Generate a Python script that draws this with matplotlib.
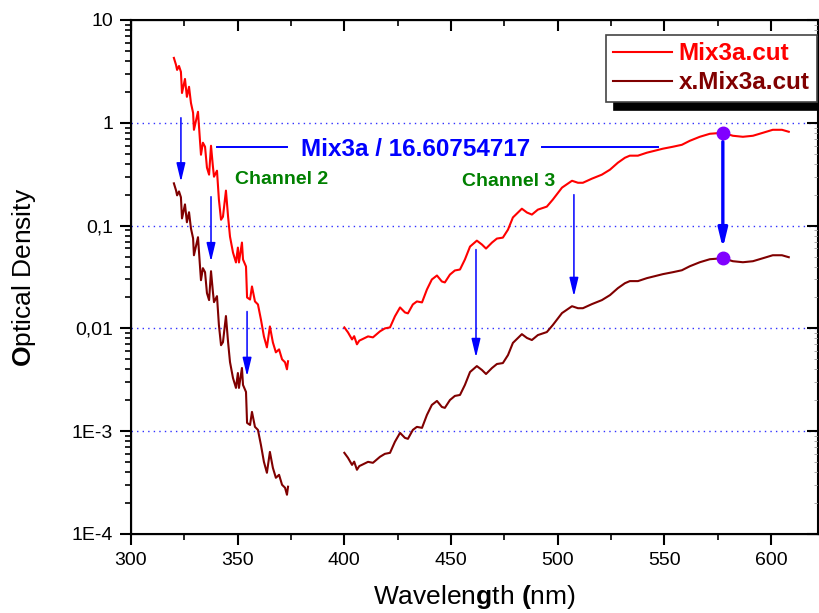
import numpy as np
import matplotlib.pyplot as plt
from matplotlib.ticker import FixedLocator, MultipleLocator, NullFormatter, LogLocator

plt.rcParams['font.family'] = ['Liberation Sans', 'DejaVu Sans']
plt.rcParams['mathtext.fontset'] = 'custom'
plt.rcParams['mathtext.rm'] = 'Liberation Sans'
plt.rcParams['mathtext.bf'] = 'Liberation Sans:bold'

# Mix3a.cut, UV part (channel 2)
wl_uv = [320.1, 321.1, 321.6, 322.5, 323.4, 323.9, 325.3, 326.2, 327.2, 328.1,
         329.1, 329.5, 331.4, 332.3, 332.8, 333.7, 334.7, 335.6, 336.6, 337.5,
         338.4, 338.9, 340.3, 341.2, 342.2, 343.1, 344.5, 345.5, 346.4, 347.8,
         349.2, 350.1, 350.6, 352.0, 352.5, 353.9, 354.4, 355.8, 356.7, 358.1,
         359.5, 360.9, 362.3, 363.7, 365.1, 366.5, 367.9, 369.4, 370.8, 372.2,
         373.1, 373.6]
od_uv = [4.28, 3.66, 3.27, 3.57, 3.13, 1.95, 2.67, 1.79, 2.24, 1.56,
         1.25, 0.855, 1.28, 0.684, 0.489, 0.640, 0.585, 0.366, 0.313, 0.598,
         0.374, 0.299, 0.342, 0.179, 0.114, 0.122, 0.219, 0.122, 0.0782, 0.0547,
         0.0438, 0.0611, 0.0438, 0.0684, 0.0468, 0.0400, 0.0200, 0.0191, 0.0256, 0.0183,
         0.0171, 0.0122, 0.00836, 0.00654, 0.01044, 0.00731, 0.00585, 0.00625, 0.00500, 0.00468,
         0.00400, 0.00479]

# Mix3a.cut, visible part (channel 3)
wl_vis = [400.0, 401.7, 403.6, 404.6, 405.9, 407.0, 408.2, 411.1, 413.4, 416.7,
          419.0, 421.4, 423.7, 426.1, 428.4, 429.8, 432.1, 434.0, 436.4, 438.7,
          441.0, 443.4, 445.7, 447.1, 449.5, 451.8, 454.2, 456.5, 458.9, 462.1,
          464.5, 466.4, 469.2, 471.5, 474.3, 476.7, 479.0, 483.2, 485.6, 487.9,
          490.7, 494.9, 497.7, 502.0, 506.7, 509.5, 511.8, 516.0, 520.7, 524.5,
          528.2, 531.5, 533.8, 537.6, 541.8, 545.5, 549.3, 554.0, 558.2, 561.9,
          566.6, 571.3, 577.4, 582.1, 586.8, 591.5, 596.2, 600.8, 605.1, 608.3]
od_vis = [0.01023, 0.00915, 0.00781, 0.00840, 0.00700, 0.00760, 0.00781, 0.00836, 0.00818, 0.00936,
          0.0100, 0.01023, 0.0131, 0.0160, 0.0143, 0.0140, 0.0171, 0.0183, 0.0179, 0.0239,
          0.0299, 0.0327, 0.0286, 0.0280, 0.0334, 0.0366, 0.0374, 0.0468, 0.0625, 0.0714,
          0.0654, 0.0598, 0.0684, 0.0748, 0.0764, 0.0914, 0.120, 0.146, 0.134, 0.128,
          0.143, 0.153, 0.179, 0.234, 0.273, 0.261, 0.261, 0.286, 0.313, 0.350,
          0.409, 0.457, 0.479, 0.479, 0.512, 0.535, 0.560, 0.585, 0.611, 0.668,
          0.731, 0.782, 0.800, 0.748, 0.731, 0.748, 0.800, 0.855, 0.855, 0.818]

factor = 16.60754717   # x.Mix3a = Mix3a / factor

y_ticks = [1e-4, 1e-3, 1e-2, 1e-1, 1, 10]
y_ticklabels = ['1E-4', '1E-3', '0,01', '0,1', '1', '10']
grid_levels = [1e-3, 1e-2, 1e-1, 1]

# arrows channel 2 / channel 3 (x, from, to)
arrow_x = [323.4, 337.5, 354.4, 461.7, 507.6]
arrow_from = [1.12, 0.191, 0.0146, 0.0585, 0.200]
arrow_to = [0.267, 0.0447, 0.00342, 0.00522, 0.0205]
marker_wl = 577.4

red = '#FF0000'
brown = '#800000'

fig = plt.figure(figsize=(8.2, 6.13), dpi=100)
ax = fig.add_axes([131/820, 79/613, 687/820, 514/613])

l1, = ax.plot(wl_uv, od_uv, color=red, lw=1.5)
ax.plot(wl_vis, od_vis, color=red, lw=1.5)
l2, = ax.plot(wl_uv, np.array(od_uv)/factor, color=brown, lw=1.5)
ax.plot(wl_vis, np.array(od_vis)/factor, color=brown, lw=1.5)

ax.set_yscale('log')
ax.set_xlim(300, 622)
ax.set_ylim(1e-4, 10)

ax.xaxis.set_major_locator(MultipleLocator(50))
ax.xaxis.set_minor_locator(MultipleLocator(25))
ax.yaxis.set_major_locator(FixedLocator(y_ticks))
ax.set_yticklabels(y_ticklabels)
ax.yaxis.set_minor_locator(LogLocator(base=10, subs=np.arange(2, 10)))
ax.yaxis.set_minor_formatter(NullFormatter())
ax.tick_params(which='major', direction='out', length=8, width=1.5, labelsize=14, pad=5)
ax.tick_params(which='minor', direction='out', length=4, width=1.2)
for sp in ax.spines.values():
    sp.set_linewidth(1.5)

for g in grid_levels:
    ax.axhline(g, color='#3030ff', ls=(0, (1, 3)), lw=1, zorder=0)

ax.set_xlabel(r'Wavelen$\mathbf{g}$th $\mathbf{(}$nm)', fontsize=19, labelpad=10)
ax.set_ylabel(r'$\mathbf{O}$ptical Density', fontsize=19, labelpad=24)

# top/right axes with inward ticks
ax_t = ax.twiny()
ax_t.set_xlim(ax.get_xlim())
ax_t.xaxis.set_major_locator(MultipleLocator(50))
ax_t.xaxis.set_minor_locator(MultipleLocator(25))
ax_t.tick_params(which='major', direction='in', length=8, width=1.5, labeltop=False)
ax_t.tick_params(which='minor', direction='in', length=4, width=1.2)
ax_r = ax.twinx()
ax_r.set_yscale('log')
ax_r.set_ylim(ax.get_ylim())
ax_r.yaxis.set_major_locator(FixedLocator(y_ticks))
ax_r.yaxis.set_minor_locator(LogLocator(base=10, subs=np.arange(2, 10)))
ax_r.tick_params(which='major', direction='in', length=8, width=1.5, labelright=False)
ax_r.tick_params(which='minor', direction='in', length=3, width=0.6, color='#999999')
ax_r.yaxis.set_minor_formatter(NullFormatter())

# arrows
for x, a, b in zip(arrow_x, arrow_from, arrow_to):
    ax.annotate('', xy=(x, b), xytext=(x, a),
                arrowprops=dict(arrowstyle='-|>,head_length=0.75,head_width=0.18',
                                color='blue', lw=1.1, mutation_scale=15,
                                shrinkA=0, shrinkB=0))
od_mark = od_vis[wl_vis.index(marker_wl)]
ax.annotate('', xy=(marker_wl, od_mark/factor*1.25), xytext=(marker_wl, od_mark*0.82),
            arrowprops=dict(arrowstyle='-|>,head_length=0.7,head_width=0.17',
                            color='blue', lw=2.4, mutation_scale=16,
                            shrinkA=0, shrinkB=0))
ax.plot([marker_wl, marker_wl], [od_mark, od_mark/factor], 'o', color='#8000FF',
        ms=9, ls='none', zorder=5)

# factor label with lines
ax.plot([340.3, 373.1], [0.585, 0.585], color='blue', lw=1.4)
ax.plot([492.6, 546.9], [0.585, 0.585], color='blue', lw=1.4)
ax.text(433.3, 0.55, 'Mix3a / %.8f' % factor, color='blue', fontsize=17.5,
        fontweight='bold', ha='center', va='center')
ax.text(370.8, 0.28, 'Channel 2', color='#008000', fontsize=14,
        fontweight='bold', ha='center', va='center')
ax.text(477.1, 0.267, 'Channel 3', color='#008000', fontsize=14,
        fontweight='bold', ha='center', va='center')

leg = ax_r.legend([l1, l2], ['Mix3a.cut', 'x.Mix3a.cut'], loc='upper right',
                  bbox_to_anchor=(817/820, 1 - 35/613), bbox_transform=fig.transFigure,
                  prop={'size': 17.5, 'weight': 'bold'}, labelcolor='linecolor',
                  handlelength=2.4, handletextpad=0.3, borderpad=0.3, labelspacing=0.25,
                  borderaxespad=0, fancybox=False, framealpha=1,
                  shadow={'ox': 6, 'oy': -6, 'color': 'black', 'alpha': 1})
leg.get_frame().set_edgecolor('#444444')
leg.get_frame().set_linewidth(1.2)

plt.savefig('out.png', dpi=100)
